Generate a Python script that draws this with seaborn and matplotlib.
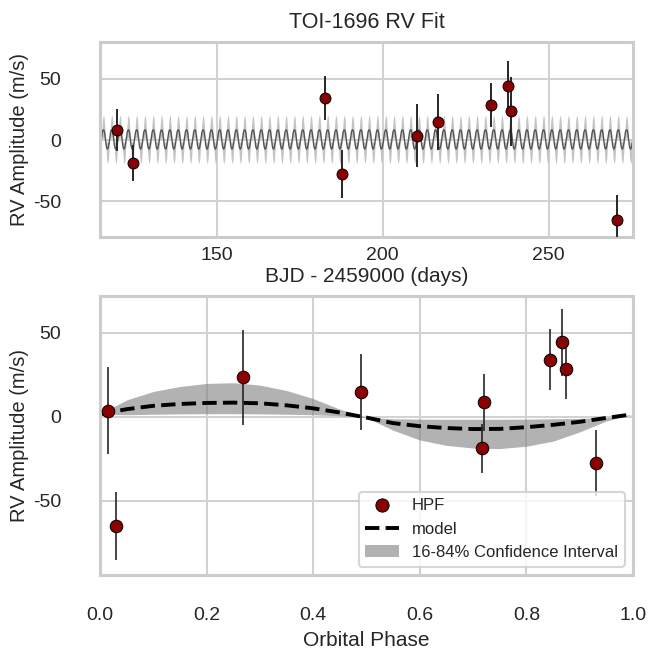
import numpy as np
import pandas as pd
import matplotlib
matplotlib.use("Agg")
import matplotlib.pyplot as plt
import seaborn as sns
from matplotlib.lines import Line2D
from matplotlib.patches import Patch

# ---------------- data ----------------
bjd = [119.9, 124.9, 182.6, 187.8, 210.4, 216.6, 232.6, 237.7, 238.6, 270.5]
rv = [8.5, -18.7, 34.0, -27.3, 3.7, 14.7, 28.6, 44.2, 23.4, -64.8]
rv_err = [17.0, 14.6, 18.0, 19.5, 26.0, 22.6, 18.0, 20.0, 28.0, 20.0]
orbital_phase = [0.721, 0.716, 0.8445, 0.930, 0.0155, 0.490, 0.8744, 0.8675, 0.269, 0.030]

model_phase = [0.00, 0.05, 0.10, 0.15, 0.20, 0.25, 0.30, 0.35, 0.40, 0.45, 0.50,
               0.55, 0.60, 0.65, 0.70, 0.75, 0.80, 0.85, 0.90, 0.95, 1.00]
model_rv = [1.5, 4.5, 6.5, 7.6, 8.2, 8.4, 8.0, 6.8, 5.0, 2.5, -0.5,
            -3.8, -5.6, -6.7, -7.3, -7.2, -6.2, -4.8, -3.0, -0.7, 1.5]
band_hi = [1.5, 10.0, 15.0, 18.0, 19.8, 20.2, 18.8, 15.6, 10.8, 4.5, -0.5,
           -1.2, -1.4, -1.5, -1.5, -1.5, -1.4, -1.2, -1.0, -0.5, 1.5]
band_lo = [1.5, 1.2, 1.5, 1.7, 1.8, 1.8, 1.7, 1.5, 1.2, 0.6, -0.5,
           -8.0, -13.8, -17.0, -18.6, -18.9, -17.5, -14.5, -9.0, -2.5, 1.5]

period = 2.5003      # days
t_ref = 210.36       # BJD - 2459000 at phase 0

# ---------------- style ----------------
sns.set_theme(style="whitegrid", rc={
    "axes.edgecolor": "#cccccc",
    "axes.linewidth": 2.2,
    "grid.color": "#d2d2d2",
    "grid.linewidth": 1.5,
})
plt.rcParams["font.family"] = ["Liberation Sans", "DejaVu Sans"]
plt.rcParams["axes.unicode_minus"] = False
plt.rcParams["text.color"] = "#262626"
plt.rcParams["axes.labelcolor"] = "#262626"
plt.rcParams["xtick.color"] = "#262626"
plt.rcParams["ytick.color"] = "#262626"

fig = plt.figure(figsize=(6.49, 6.58), dpi=100)
ax1 = fig.add_axes([0.1541, 0.6398, 0.8213, 0.2964])
ax2 = fig.add_axes([0.1541, 0.1261, 0.8213, 0.4240])

# ---------------- top panel: time series ----------------
cycles = np.arange(-39, 28)
ph = np.array(model_phase[:-1])
t_model = (t_ref + period * (cycles[:, None] + ph[None, :])).ravel()
m_t = np.tile(model_rv[:-1], len(cycles))
hi_t = np.tile(band_hi[:-1], len(cycles))
lo_t = np.tile(band_lo[:-1], len(cycles))

ax1.fill_between(t_model, lo_t, hi_t, color="#c4c4c4", lw=0, zorder=1.5)
sns.lineplot(x=t_model, y=m_t, ax=ax1, color="#555555", lw=1.0,
             estimator=None, sort=False, zorder=2)
ax1.errorbar(bjd, rv, yerr=rv_err, fmt="none", ecolor="#262626",
             elinewidth=1.4, capsize=0, zorder=3)
sns.scatterplot(x=bjd, y=rv, ax=ax1, color="darkred", edgecolor="black",
                linewidth=0.7, s=62, zorder=4)

ax1.set_xlim(114.9, 275.4)
ax1.set_ylim(-79, 80)
ax1.set_xticks([150, 200, 250])
ax1.set_yticks([-50, 0, 50])
ax1.tick_params(axis="x", labelsize=14, pad=1)
ax1.tick_params(axis="y", labelsize=14, pad=22)
ax1.set_xlabel("BJD - 2459000 (days)", fontsize=15, labelpad=2)
ax1.set_ylabel("RV Amplitude (m/s)", fontsize=14.5, labelpad=3)
ax1.set_title("TOI-1696 RV Fit", fontsize=15.5, pad=10)

# ---------------- bottom panel: phase folded ----------------
ax2.fill_between(model_phase, band_lo, band_hi, color="gray", alpha=0.6,
                 lw=0, zorder=1.5)
sns.lineplot(x=model_phase, y=model_rv, ax=ax2, color="black", lw=2.8,
             linestyle="--", estimator=None, zorder=2)
ax2.errorbar(orbital_phase, rv, yerr=rv_err, fmt="none", ecolor="#262626",
             elinewidth=1.2, capsize=0, zorder=3)
sns.scatterplot(x=orbital_phase, y=rv, ax=ax2, color="darkred",
                edgecolor="black", linewidth=0.7, s=82, zorder=4)

ax2.set_xlim(0, 1)
ax2.set_ylim(-94, 71.7)
ax2.set_xticks([0.0, 0.2, 0.4, 0.6, 0.8, 1.0])
ax2.set_yticks([-50, 0, 50])
ax2.tick_params(axis="x", labelsize=14, pad=17)
ax2.tick_params(axis="y", labelsize=14, pad=22)
ax2.set_xlabel("Orbital Phase", fontsize=15, labelpad=5)
ax2.set_ylabel("RV Amplitude (m/s)", fontsize=14.5, labelpad=3)

handles = [
    Line2D([], [], marker="o", ls="none", markerfacecolor="darkred",
           markeredgecolor="black", markeredgewidth=0.7, markersize=9.5),
    Line2D([], [], color="black", ls="--", lw=2.8),
    Patch(facecolor="gray", alpha=0.6, edgecolor="none"),
]
leg = ax2.legend(handles, ["HPF", "model", "16-84% Confidence Interval"],
                 loc="lower right", fontsize=12, frameon=True,
                 handlelength=2.0)
leg.get_frame().set_edgecolor("#cccccc")
leg.get_frame().set_linewidth(1.5)

fig.savefig("out.png", dpi=100)
